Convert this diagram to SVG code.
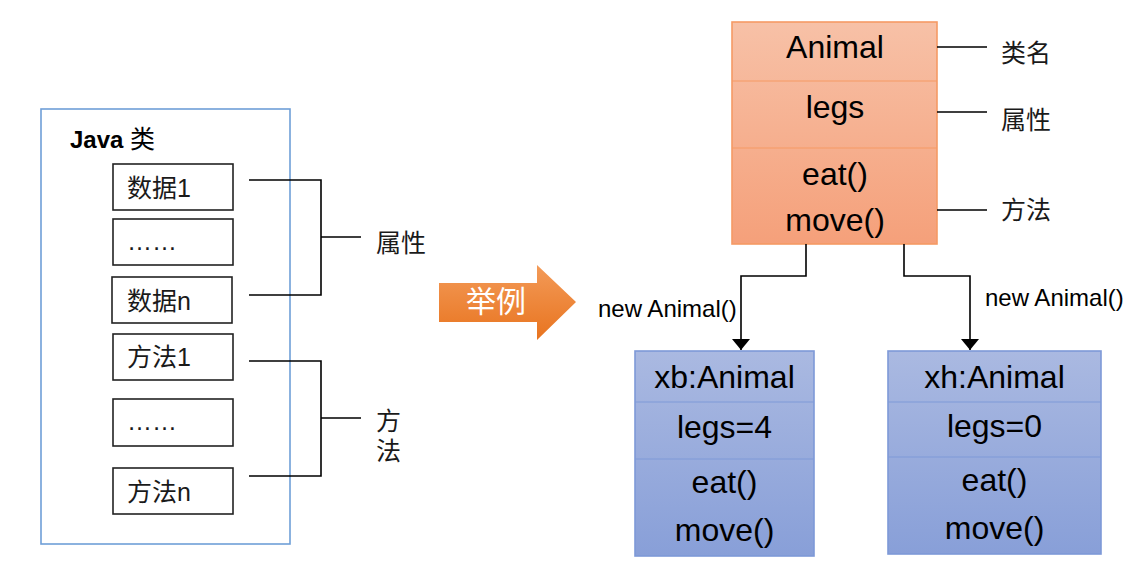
<svg xmlns="http://www.w3.org/2000/svg" width="1144" height="570" viewBox="0 0 1144 570">
  <defs>
    <linearGradient id="gOrange" x1="0" y1="0" x2="0" y2="1">
      <stop offset="0" stop-color="#f7c1a7"/>
      <stop offset="1" stop-color="#f5a07a"/>
    </linearGradient>
    <linearGradient id="gBlue" x1="0" y1="0" x2="0" y2="1">
      <stop offset="0" stop-color="#aab9e1"/>
      <stop offset="1" stop-color="#889fd8"/>
    </linearGradient>
    <linearGradient id="gArrow" x1="0" y1="0" x2="0" y2="1">
      <stop offset="0" stop-color="#f39a58"/>
      <stop offset="1" stop-color="#e8741f"/>
    </linearGradient>
    <marker id="arrow" markerUnits="userSpaceOnUse" markerWidth="18" markerHeight="12" viewBox="0 0 18 12" refX="9" refY="11" orient="0">
      <path d="M0,0 L18,0 L9,11 Z" fill="#000"/>
    </marker>
    <style>
      .lat { font-family: "Liberation Sans", Arial, "Noto Sans CJK SC", sans-serif; fill: #000; }
      .cjk { font-family: "Liberation Sans", "Noto Sans CJK SC", sans-serif; fill: #1a1a1a; font-size: 25px; }
      .big { font-size: 32px; text-anchor: middle; }
      .item { fill: #fff; stroke: #222; stroke-width: 1.6; }
      .ln { fill: none; stroke: #000; stroke-width: 1.6; }
      .div { stroke-width: 1.2; }
    </style>
  </defs>

  <!-- Left: Java class -->
  <g id="java-class">
    <rect x="41" y="109" width="249" height="435" fill="#fff" stroke="#6f9fd8" stroke-width="1.6"/>
    <text class="lat" x="70" y="148" font-size="24" font-weight="bold">Java <tspan font-family="Noto Sans CJK SC, sans-serif" font-weight="normal" font-size="25">类</tspan></text>
  </g>
  <g id="data1"><rect class="item" x="113" y="164" width="120" height="46"/><text class="cjk" x="127" y="197">数据1</text></g>
  <g id="data-dots"><rect class="item" x="113" y="219" width="120" height="46"/><text class="cjk" x="127" y="250">……</text></g>
  <g id="datan"><rect class="item" x="112" y="277" width="120" height="46"/><text class="cjk" x="127" y="310">数据n</text></g>
  <g id="method1"><rect class="item" x="113" y="334" width="120" height="46"/><text class="cjk" x="127" y="366">方法1</text></g>
  <g id="method-dots"><rect class="item" x="113" y="399" width="120" height="47"/><text class="cjk" x="127" y="430">……</text></g>
  <g id="methodn"><rect class="item" x="113" y="468" width="120" height="46"/><text class="cjk" x="127" y="501">方法n</text></g>

  <g id="label-attr"><text class="cjk" x="376" y="252">属性</text></g>
  <g id="label-method"><text class="cjk" x="376" y="430">方</text><text class="cjk" x="376" y="460">法</text></g>

  <!-- Example arrow -->
  <g id="example-arrow">
    <path d="M439,283 H537 V265 L576,302 L537,340 V322 H439 Z" fill="url(#gArrow)"/>
    <text x="466" y="312" font-family="Noto Sans CJK SC, sans-serif" font-size="30" fill="#fff">举例</text>
  </g>

  <!-- Animal class -->
  <g id="animal">
    <rect x="732" y="22" width="205" height="222" fill="url(#gOrange)" stroke="#f59a65" stroke-width="1.6"/>
    <line x1="732" y1="81" x2="937" y2="81" stroke="#f59a65" class="div"/>
    <line x1="732" y1="148" x2="937" y2="148" stroke="#f59a65" class="div"/>
    <text class="lat big" x="835" y="58">Animal</text>
    <text class="lat big" x="835" y="118">legs</text>
    <text class="lat big" x="835" y="185">eat()</text>
    <text class="lat big" x="835" y="231">move()</text>
  </g>
  <g id="label-classname"><text class="cjk" x="1001" y="62">类名</text></g>
  <g id="label-attr2"><text class="cjk" x="1001" y="129">属性</text></g>
  <g id="label-method2"><text class="cjk" x="1001" y="219">方法</text></g>

  <!-- Objects -->
  <g id="xb">
    <rect x="635" y="351" width="179" height="205" fill="url(#gBlue)" stroke="#7e99d8" stroke-width="1.6"/>
    <line x1="635" y1="402" x2="814" y2="402" stroke="#7e99d8" class="div"/>
    <line x1="635" y1="459" x2="814" y2="459" stroke="#7e99d8" class="div"/>
    <text class="lat big" x="724.5" y="388">xb:Animal</text>
    <text class="lat big" x="724.5" y="438">legs=4</text>
    <text class="lat big" x="724.5" y="493">eat()</text>
    <text class="lat big" x="724.5" y="541">move()</text>
  </g>
  <g id="xh">
    <rect x="888" y="351" width="213" height="203" fill="url(#gBlue)" stroke="#7e99d8" stroke-width="1.6"/>
    <line x1="888" y1="402" x2="1101" y2="402" stroke="#7e99d8" class="div"/>
    <line x1="888" y1="457" x2="1101" y2="457" stroke="#7e99d8" class="div"/>
    <text class="lat big" x="994.5" y="388">xh:Animal</text>
    <text class="lat big" x="994.5" y="437">legs=0</text>
    <text class="lat big" x="994.5" y="491">eat()</text>
    <text class="lat big" x="994.5" y="539">move()</text>
  </g>

  <!-- Connectors -->
  <g id="connectors">
    <path class="ln" d="M249,180 H321 V295 H249 M321,237 H361"/>
    <path class="ln" d="M249,361 H321 V476 H249 M321,418 H361"/>
    <path class="ln" d="M937,47 H987 M937,112 H987 M937,210 H987"/>
    <path class="ln" d="M806,244 V276 H741 V350" marker-end="url(#arrow)"/>
    <path class="ln" d="M904,244 V276 H970 V350" marker-end="url(#arrow)"/>
    <text class="lat" x="598" y="317" font-size="24">new Animal()</text>
    <text class="lat" x="985" y="306" font-size="24">new Animal()</text>
  </g>
</svg>
